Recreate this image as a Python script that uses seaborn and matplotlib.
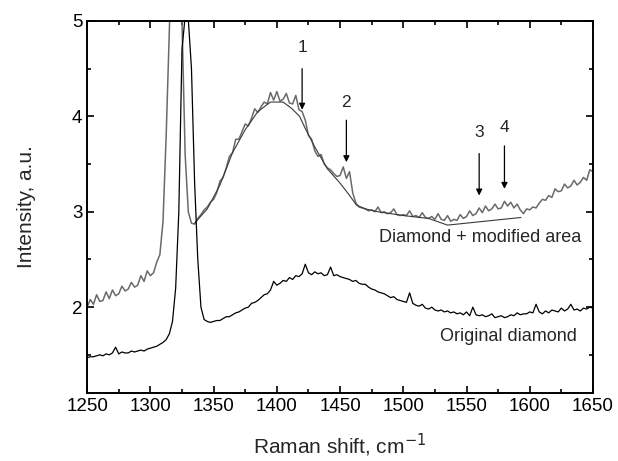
import numpy as np
import pandas as pd
import matplotlib
matplotlib.use("Agg")
import matplotlib.pyplot as plt
import seaborn as sns
from matplotlib.ticker import MultipleLocator

# ----------------------------------------------------------
# Data (step 2.5 cm-1)
# ----------------------------------------------------------
shift = np.arange(1250, 1650.1, 2.5)

modified = [
    2.00, 2.08, 2.03, 2.13, 2.06, 2.07, 2.16, 2.09, 2.18, 2.12, 2.14, 2.22, 2.17, 2.19, 2.26, 2.21, 2.23, 2.33, 2.27, 2.38,
    2.33, 2.36, 2.47, 2.55, 2.90, 3.80, 4.90, 6.00, 6.50, 6.00, 5.00, 3.60, 3.00, 2.88, 2.87, 2.93, 2.97, 3.02, 3.05, 3.10,
    3.13, 3.20, 3.32, 3.36, 3.46, 3.58, 3.62, 3.76, 3.76, 3.84, 3.92, 3.90, 3.98, 4.08, 4.04, 4.10, 4.15, 4.13, 4.25, 4.17,
    4.26, 4.16, 4.18, 4.24, 4.14, 4.13, 4.22, 4.07, 4.05, 3.96, 3.80, 3.76, 3.64, 3.58, 3.60, 3.50, 3.46, 3.44, 3.40, 3.37,
    3.38, 3.47, 3.35, 3.42, 3.20, 3.09, 3.05, 3.04, 3.03, 3.01, 3.02, 3.00, 3.05, 2.99, 3.00, 2.98, 2.99, 3.03, 2.97, 2.96,
    2.97, 2.96, 3.01, 2.95, 2.96, 2.94, 2.99, 2.94, 2.93, 2.95, 2.92, 2.98, 2.92, 2.91, 2.96, 2.90, 2.92, 2.91, 2.97, 2.93,
    2.95, 3.01, 2.96, 2.98, 3.04, 2.99, 3.06, 3.01, 3.03, 3.08, 3.03, 3.04, 3.11, 3.06, 3.10, 3.04, 3.08, 3.02, 2.98, 3.03,
    3.02, 3.05, 3.04, 3.09, 3.13, 3.12, 3.17, 3.15, 3.24, 3.21, 3.22, 3.29, 3.25, 3.27, 3.33, 3.28, 3.31, 3.36, 3.33, 3.44,
    3.42,
]

original = [
    1.47, 1.48, 1.48, 1.49, 1.50, 1.49, 1.51, 1.50, 1.52, 1.58, 1.51, 1.53, 1.52, 1.52, 1.54, 1.53, 1.54, 1.55, 1.54, 1.56,
    1.57, 1.58, 1.59, 1.61, 1.63, 1.66, 1.72, 1.85, 2.20, 3.00, 4.70, 5.05, 5.02, 4.50, 3.30, 2.50, 2.00, 1.87, 1.85, 1.84,
    1.85, 1.86, 1.86, 1.88, 1.90, 1.90, 1.92, 1.94, 1.95, 1.97, 1.99, 2.00, 2.04, 2.05, 2.07, 2.10, 2.13, 2.14, 2.18, 2.27,
    2.23, 2.25, 2.28, 2.27, 2.31, 2.29, 2.33, 2.32, 2.35, 2.45, 2.36, 2.34, 2.37, 2.35, 2.36, 2.33, 2.34, 2.42, 2.33, 2.34,
    2.32, 2.31, 2.30, 2.29, 2.27, 2.28, 2.25, 2.24, 2.24, 2.21, 2.19, 2.18, 2.16, 2.15, 2.14, 2.12, 2.10, 2.11, 2.08, 2.07,
    2.06, 2.05, 2.15, 2.04, 2.02, 2.01, 2.03, 1.99, 1.98, 2.00, 1.97, 1.96, 1.97, 1.95, 1.96, 1.94, 1.95, 1.93, 1.94, 1.92,
    1.95, 1.91, 2.00, 1.92, 1.91, 1.92, 1.90, 1.91, 1.93, 1.89, 1.90, 1.91, 1.89, 1.90, 1.92, 1.91, 1.94, 1.92, 1.93, 1.93,
    1.95, 1.94, 2.03, 1.95, 1.93, 1.96, 1.94, 1.97, 1.96, 1.95, 1.99, 1.96, 1.98, 2.03, 1.97, 1.98, 1.96, 1.99, 1.98, 2.00,
    1.99,
]

# smooth fitted background of the modified spectrum
fit_x = [1335, 1345, 1355, 1365, 1375, 1385, 1395, 1405, 1412, 1418, 1423, 1430, 1440, 1450, 1457, 1463,
         1470, 1480, 1500, 1520, 1535, 1593]
fit_y = [2.88, 3.03, 3.28, 3.62, 3.86, 4.05, 4.15, 4.15, 4.08, 4.00, 3.86, 3.68, 3.45, 3.30, 3.18, 3.07,
         3.03, 3.00, 2.96, 2.93, 2.86, 2.94]

# arrows: x position, tail y, head y, label y
arrow_labels = ["1", "2", "3", "4"]
arrow_x = [1420, 1455, 1560, 1580]
arrow_tail = [4.50, 3.96, 3.61, 3.69]
arrow_head = [4.07, 3.52, 3.17, 3.24]
arrow_text_y = [4.72, 4.15, 3.83, 3.88]

df = pd.DataFrame({"shift": np.concatenate([shift, shift]),
                   "intensity": modified + original,
                   "sample": ["modified"] * len(shift) + ["original"] * len(shift)})
fit_df = pd.DataFrame({"shift": fit_x, "intensity": fit_y})

# ----------------------------------------------------------
# Figure
# ----------------------------------------------------------
sns.set_theme(style="ticks")
plt.rcParams["font.family"] = ["Liberation Sans", "DejaVu Sans"]

fig = plt.figure(figsize=(6.18, 4.61), dpi=100)
ax = fig.add_axes([0.141, 0.1475, 0.8185, 0.807])

sns.lineplot(data=df[df["sample"] == "modified"], x="shift", y="intensity",
             color="#6a6a6a", lw=1.1, estimator=None, ax=ax)
sns.lineplot(data=fit_df, x="shift", y="intensity", color="#3a3a3a", lw=0.8,
             estimator=None, ax=ax)
sns.lineplot(data=df[df["sample"] == "original"], x="shift", y="intensity",
             color="black", lw=0.9, estimator=None, ax=ax)

for lab, x, yt, yh, ty in zip(arrow_labels, arrow_x, arrow_tail, arrow_head, arrow_text_y):
    ax.annotate("", xy=(x, yh), xytext=(x, yt),
                arrowprops=dict(arrowstyle="-|>", color="black", lw=0.9, mutation_scale=9,
                                shrinkA=0, shrinkB=0))
    ax.text(x, ty, lab, ha="center", va="center", fontsize=12.5)

ax.text(1641, 2.73, "Diamond + modified area", ha="right", va="center", fontsize=13)
ax.text(1637, 1.69, "Original diamond", ha="right", va="center", fontsize=13)

ax.set_xlim(1250, 1650)
ax.set_ylim(1.1, 5)
ax.xaxis.set_major_locator(MultipleLocator(50))
ax.xaxis.set_minor_locator(MultipleLocator(25))
ax.yaxis.set_major_locator(MultipleLocator(1))
ax.yaxis.set_minor_locator(MultipleLocator(0.5))
ax.tick_params(which="both", direction="in", top=True, right=True, labelsize=13.5,
               width=1.2, colors="black")
ax.tick_params(which="major", length=5)
ax.tick_params(which="minor", length=3)
for sp in ax.spines.values():
    sp.set_linewidth(1.4)
    sp.set_color("black")

ax.set_xlabel("Raman shift, cm$^{-1}$", fontsize=15, labelpad=12)
ax.set_ylabel("Intensity, a.u.", fontsize=15, labelpad=26)

fig.savefig("out.png", dpi=100)
